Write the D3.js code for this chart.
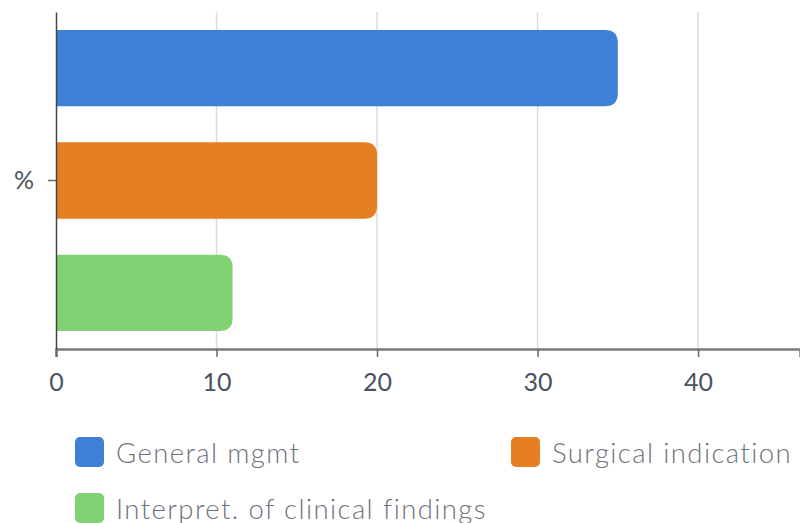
<!DOCTYPE html>
<html>
<head>
<meta charset="utf-8" />
<title></title>
<style>
html, body {
    padding: 0px;
    margin: 0px;
    width: 800px;
    height: 523px;
    background: #fff;
    overflow: hidden;
}
svg text {
    font-family: Lato, "Open Sans", sans-serif;
}
.grid line {
    stroke: #dcdcdc;
    stroke-width: 1.5;
}
</style>
</head>
<body>
<div id="chart"></div>
<script src="https://cdnjs.cloudflare.com/ajax/libs/d3/7.8.5/d3.min.js"></script>
<script>
!(function(){
    "use strict"

    var categories = ["%"]
    var series = ["General mgmt", "Surgical indication", "Interpret. of clinical findings"]
    var values = [35, 20, 11]
    var colors = ["#3e80d6", "#e67e22", "#80d273"]
    var xTicks = [0, 10, 20, 30, 40]

    var W = 800, H = 523
    var m = {top: 12, right: 0, bottom: 174, left: 56}

    var svg = d3.select("#chart").append("svg")
        .attr("width", W)
        .attr("height", H)

    var x = d3.scaleLinear().domain([0, 46.35]).range([m.left, W - m.right])
    var y0 = d3.scaleBand().domain(categories).range([m.top, H - m.bottom])
    var y1 = d3.scaleBand().domain(series).range([0, y0.bandwidth()]).paddingInner(0.32).paddingOuter(0.16)

    //grid
    svg.append("g").attr("class", "grid")
        .selectAll("line")
        .data(xTicks.slice(1))
        .enter().append("line")
        .attr("x1", function(d){ return x(d) })
        .attr("x2", function(d){ return x(d) })
        .attr("y1", m.top)
        .attr("y2", H - m.bottom)

    //bars, rounded at the right end only
    var r = 13
    svg.append("g").selectAll("path")
        .data(series)
        .enter().append("path")
        .attr("fill", function(d, i){ return colors[i] })
        .attr("d", function(d, i){
            var x0 = x(0), x1 = x(values[i])
            var t = y0(categories[0]) + y1(d), b = t + y1.bandwidth()
            return "M" + x0 + "," + t +
                "H" + (x1 - r) +
                "Q" + x1 + "," + t + " " + x1 + "," + (t + r) +
                "V" + (b - r) +
                "Q" + x1 + "," + b + " " + (x1 - r) + "," + b +
                "H" + x0 + "Z"
        })

    //x axis
    var gx = svg.append("g")
        .attr("transform", "translate(0," + (H - m.bottom) + ")")
        .call(d3.axisBottom(x).tickValues(xTicks).tickSize(8).tickPadding(16))
    gx.select(".domain").attr("stroke", "#7a7a7a").attr("stroke-width", 2.5)
    gx.selectAll(".tick line").attr("stroke", "#666").attr("stroke-width", 1.5)
    gx.selectAll("text").attr("fill", "#4a5260").attr("font-size", 25)

    //y axis
    var gy = svg.append("g")
        .attr("transform", "translate(" + m.left + ",0)")
        .call(d3.axisLeft(y0).tickSize(8).tickPadding(14).tickSizeOuter(0))
    gy.select(".domain").attr("stroke", "#444").attr("stroke-width", 1.5)
    gy.selectAll(".tick line").attr("stroke", "#666").attr("stroke-width", 1.5)
    gy.selectAll("text").attr("fill", "#4a5260").attr("font-size", 25)

    //legend
    var legendPos = [[75, 437], [511, 437], [75, 493]]
    var lg = svg.append("g").selectAll("g")
        .data(series)
        .enter().append("g")
        .attr("transform", function(d, i){ return "translate(" + legendPos[i][0] + "," + legendPos[i][1] + ")" })
    lg.append("rect")
        .attr("width", 29).attr("height", 30).attr("rx", 5)
        .attr("fill", function(d, i){ return colors[i] })
    lg.append("text")
        .attr("x", 41).attr("y", 26)
        .attr("font-size", 27.5)
        .attr("font-weight", 300)
        .attr("letter-spacing", 1.4)
        .attr("fill", "#6d727b")
        .text(function(d){ return d })

}());
</script>
</body>
</html>
